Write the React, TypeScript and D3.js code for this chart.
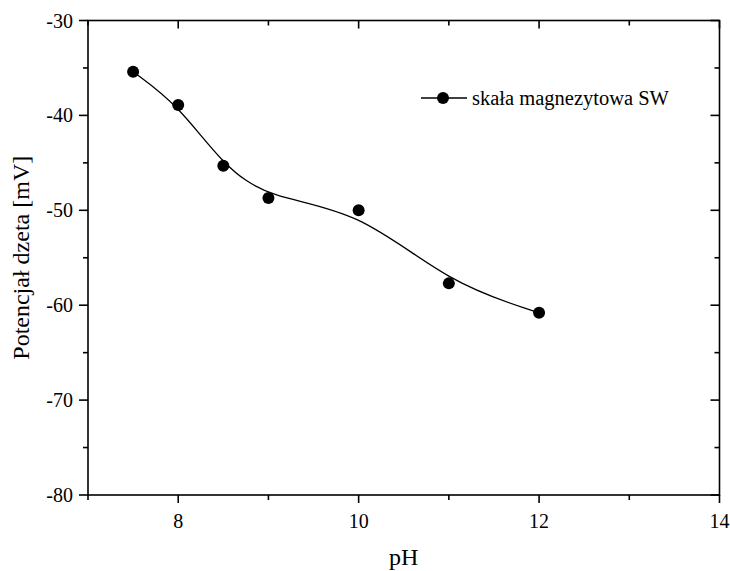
import * as d3 from "d3";
import { useEffect, useRef } from "react";

const phValues = [7.5, 8, 8.5, 9, 10, 11, 12];
const zetaValues = [-35.4, -38.9, -45.3, -48.7, -50.0, -57.7, -60.8];
const xTicks = [8, 10, 12, 14];
const yTicks = [-30, -40, -50, -60, -70, -80];
const seriesName = "skała magnezytowa SW";

export default function App() {
  const ref = useRef<SVGSVGElement>(null);

  useEffect(() => {
    const svg = d3.select(ref.current);
    svg.selectAll("*").remove();

    const width = 730;
    const height = 571;
    const left = 88, right = 719.5, top = 20.5, bottom = 495;
    const font = "'Liberation Serif', 'Times New Roman', serif";

    svg.attr("width", width).attr("height", height);

    const x = d3.scaleLinear().domain([7, 14]).range([left, right]);
    const y = d3.scaleLinear().domain([-80, -30]).range([bottom, top]);

    const g = svg.append("g");

    // frame
    g.append("rect")
      .attr("x", left).attr("y", top)
      .attr("width", right - left).attr("height", bottom - top)
      .attr("fill", "none").attr("stroke", "#000").attr("stroke-width", 1.6);

    const xMinor = d3.range(7, 14.01, 1);
    const yMinor = d3.range(-80, -29.9, 5);

    // x ticks (bottom outward, top inward)
    xMinor.forEach(v => {
      const major = xTicks.includes(v);
      const len = major ? 8 : 5;
      g.append("line").attr("x1", x(v)).attr("x2", x(v))
        .attr("y1", bottom).attr("y2", bottom + len)
        .attr("stroke", "#000").attr("stroke-width", 1.6);
      g.append("line").attr("x1", x(v)).attr("x2", x(v))
        .attr("y1", top).attr("y2", top + len)
        .attr("stroke", "#000").attr("stroke-width", 1.6);
    });
    yMinor.forEach(v => {
      const major = yTicks.includes(v);
      const len = major ? 9 : 5;
      g.append("line").attr("x1", left - len).attr("x2", left)
        .attr("y1", y(v)).attr("y2", y(v))
        .attr("stroke", "#000").attr("stroke-width", 1.6);
      g.append("line").attr("x1", right - len).attr("x2", right)
        .attr("y1", y(v)).attr("y2", y(v))
        .attr("stroke", "#000").attr("stroke-width", 1.6);
    });

    g.selectAll(".xl").data(xTicks).join("text")
      .attr("x", d => x(d)).attr("y", 528)
      .attr("text-anchor", "middle")
      .style("font-family", font).style("font-size", "20px")
      .text(d => d);

    g.selectAll(".yl").data(yTicks).join("text")
      .attr("x", 73).attr("y", d => y(d) + 7)
      .attr("text-anchor", "end")
      .style("font-family", font).style("font-size", "20px")
      .text(d => d);

    // axis titles
    g.append("text")
      .attr("x", (left + right) / 2).attr("y", 565)
      .attr("text-anchor", "middle")
      .style("font-family", font).style("font-size", "24px")
      .text("pH");

    g.append("text")
      .attr("transform", `translate(29,${(top + bottom) / 2}) rotate(-90)`)
      .attr("text-anchor", "middle")
      .style("font-family", font).style("font-size", "24px")
      .text("Potencjał dzeta [mV]");

    const pts = phValues.map((p, i) => [p, zetaValues[i]] as [number, number]);

    const line = d3.line<[number, number]>()
      .x(d => x(d[0])).y(d => y(d[1]))
      .curve(d3.curveBasis);

    g.append("path")
      .attr("d", line(pts))
      .attr("fill", "none").attr("stroke", "#000").attr("stroke-width", 1.3);

    g.selectAll(".pt").data(pts).join("circle")
      .attr("cx", d => x(d[0])).attr("cy", d => y(d[1]))
      .attr("r", 6).attr("fill", "#000");

    // legend
    const legend = g.append("g").attr("transform", "translate(421,98)");
    legend.append("line").attr("x1", 0).attr("x2", 46)
      .attr("stroke", "#000").attr("stroke-width", 1.3);
    legend.append("circle").attr("cx", 22).attr("cy", 0).attr("r", 6).attr("fill", "#000");
    legend.append("text").attr("x", 51).attr("y", 6.5)
      .style("font-family", font).style("font-size", "20.5px")
      .text(seriesName);
  }, []);

  return (
    <svg ref={ref} style={{ position: "absolute", left: 0, top: 0, background: "#fff" }}></svg>
  );
}
